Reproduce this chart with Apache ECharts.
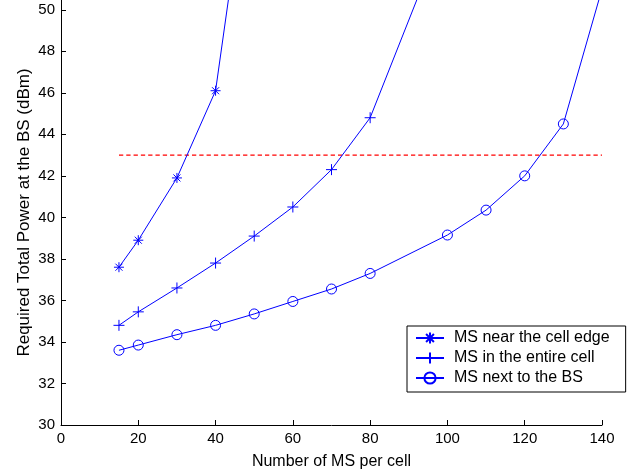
<!DOCTYPE html>
<html>
<head>
<meta charset="utf-8">
<script src="https://cdn.jsdelivr.net/npm/echarts@6/dist/echarts.min.js"></script>
<style>
  html, body { margin: 0; padding: 0; background: #fff; }
  #chart { width: 642px; height: 475px; }
</style>
</head>
<body>
<div id="chart"></div>
<script>
    // values
    const msEdge = [15, 20, 30, 40, 50];
    const powerEdge = [37.6, 38.9, 41.9, 46.1, 59.3];

    const msEntire = [15, 20, 30, 40, 50, 60, 70, 80, 100];
    const powerEntire = [34.8, 35.45, 36.6, 37.8, 39.1, 40.5, 42.3, 44.8, 54.2];

    const msNear = [15, 20, 30, 40, 50, 60, 70, 80, 100, 110, 120, 130, 140];
    const powerNear = [33.6, 33.85, 34.35, 34.8, 35.35, 35.95, 36.55, 37.3, 39.15, 40.35, 42.0, 44.5, 51.0];

    const limitX = [15, 140];
    const limitY = [43, 43];

    const names = ['MS near the cell edge', 'MS in the entire cell', 'MS next to the BS'];

    const blue = '#0000ff';
    const red = '#ff0000';
    const font = '"Liberation Sans", Arial, sans-serif';

    function pairs(xs, ys) {
        let out = [];
        for (let i = 0; i < xs.length; ++i) {
            out.push([xs[i], ys[i]]);
        }
        return out;
    }

    const starPath = 'path://M5,0L5,10M0,5L10,5M1.5,1.5L8.5,8.5M8.5,1.5L1.5,8.5';
    const plusPath = 'path://M5,0L5,10M0,5L10,5';

    function lineSeries(name, data, symbol, size) {
        return {
            name: name,
            type: 'line',
            data: data,
            symbol: symbol,
            symbolSize: size,
            showAllSymbol: true,
            clip: true,
            lineStyle: {color: blue, width: 1},
            itemStyle: {color: 'rgba(0,0,0,0)', borderColor: blue, borderWidth: 1},
            emphasis: {disabled: true},
            z: 3
        };
    }

    const axisCommon = {
        axisLine: {lineStyle: {color: '#000', width: 1}},
        axisTick: {inside: true, length: 5, lineStyle: {color: '#000'}},
        splitLine: {show: false},
        axisLabel: {color: '#000', fontSize: 15, fontFamily: font, margin: 6},
        nameLocation: 'middle',
        nameMoveOverlap: false,
        nameTextStyle: {color: '#000', fontSize: 16, fontFamily: font}
    };

    const chart = echarts.init(document.getElementById('chart'));

    const option = {
        backgroundColor: '#fff',
        animation: false,
        color: [blue, blue, blue, red],
        grid: {left: 61, right: 40, top: 0, bottom: 49},
        legend: {
            data: names,
            orient: 'vertical',
            left: 407,
            top: 326,
            itemWidth: 28,
            itemHeight: 14,
            itemGap: 4,
            padding: [4, 16, 6, 8],
            borderColor: '#000',
            borderWidth: 1,
            backgroundColor: '#fff',
            selectedMode: false,
            textStyle: {color: '#000', fontSize: 16, fontFamily: font, padding: [0, 0, 0, 5]}
        },
        xAxis: Object.assign({}, axisCommon, {
            type: 'value',
            min: 0,
            max: 140,
            interval: 20,
            name: 'Number of MS per cell',
            nameGap: 29
        }),
        yAxis: Object.assign({}, axisCommon, {
            type: 'value',
            min: 30,
            max: 50.47,
            interval: 2,
            name: 'Required Total Power at the BS (dBm)',
            nameGap: 28,
            nameTextStyle: {color: '#000', fontSize: 17, fontFamily: font},
            axisLabel: Object.assign({}, axisCommon.axisLabel, {showMaxLabel: false})
        }),
        series: [
            lineSeries(names[0], pairs(msEdge, powerEdge), starPath, 10),
            lineSeries(names[1], pairs(msEntire, powerEntire), plusPath, 11),
            lineSeries(names[2], pairs(msNear, powerNear), 'circle', 10),
            {
                name: 'limit',
                type: 'line',
                data: pairs(limitX, limitY),
                symbol: 'none',
                itemStyle: {color: red},
                lineStyle: {color: red, width: 1.2, type: [4.3, 3]},
                emphasis: {disabled: true},
                z: 2
            }
        ]
    };
    chart.setOption(option, true);
</script>
</body>
</html>
